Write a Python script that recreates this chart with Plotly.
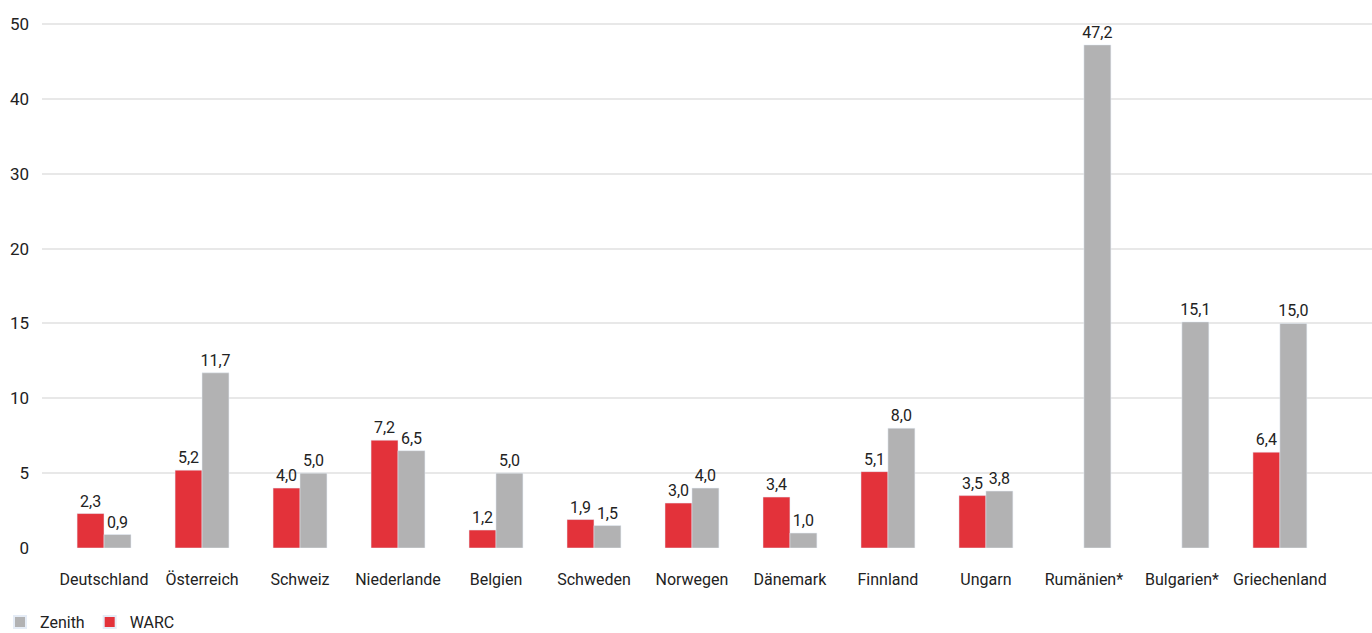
import plotly.graph_objects as go

countries = ["Deutschland", "Österreich", "Schweiz", "Niederlande", "Belgien", "Schweden",
             "Norwegen", "Dänemark", "Finnland", "Ungarn", "Rumänien*", "Bulgarien*", "Griechenland"]
warc = [2.3, 5.2, 4.0, 7.2, 1.2, 1.9, 3.0, 3.4, 5.1, 3.5, None, None, 6.4]
zenith = [0.9, 11.7, 5.0, 6.5, 5.0, 1.5, 4.0, 1.0, 8.0, 3.8, 47.2, 15.1, 15.0]
tick_values = [0, 5, 10, 15, 20, 30, 40, 50]


# piecewise axis: 0-20 in steps of 5, then 20-50 in steps of 10 (equal spacing)
def scale(v):
    if v is None:
        return None
    return v / 5 if v <= 20 else 4 + (v - 20) / 10


def fmt(v):
    return "" if v is None else f"{v:.1f}".replace(".", ",")


RED = "#e3323a"
GRAY = "#b2b2b3"
FONT = "Roboto, Open Sans, sans-serif"

fig = go.Figure()
fig.add_trace(go.Bar(
    name="WARC", x=countries, y=[scale(v) for v in warc],
    text=[fmt(v) for v in warc], textposition="outside", cliponaxis=False,
    constraintext="none",
    marker=dict(color=RED), textfont=dict(size=16, color="#222222"),
))
fig.add_trace(go.Bar(
    name="Zenith", x=countries, y=[scale(v) for v in zenith],
    text=[fmt(v) for v in zenith], textposition="outside", cliponaxis=False,
    constraintext="none",
    marker=dict(color=GRAY), textfont=dict(size=16, color="#222222"),
))

fig.update_layout(
    width=1372, height=633,
    margin=dict(l=42, r=0, t=0, b=85, autoexpand=False),
    plot_bgcolor="white", paper_bgcolor="white",
    font=dict(family=FONT, size=16, color="#222222"),
    barmode="group", bargap=0.45, bargroupgap=0,
    showlegend=True,
    legend=dict(orientation="h", traceorder="reversed", xref="container", x=-0.004,
                y=-0.135, yanchor="middle", xanchor="left",
                font=dict(size=16, color="#222222"), itemwidth=30,
                itemsizing="constant"),
)
fig.update_xaxes(
    type="category", range=[-0.633, 12.94], showgrid=False, zeroline=False,
    showline=False, ticks="", ticklabelstandoff=20, tickangle=0, automargin=False,
    tickfont=dict(size=16, color="#222222"),
)
fig.update_yaxes(
    range=[0, 7.32], tickvals=[scale(v) for v in tick_values],
    ticktext=[str(v) for v in tick_values],
    showgrid=True, gridcolor="#e8e8e8", gridwidth=2, zeroline=False,
    showline=False, ticks="", ticklabelstandoff=12, automargin=False,
    tickfont=dict(size=17, color="#222222"),
)

fig.write_html("out.html")
